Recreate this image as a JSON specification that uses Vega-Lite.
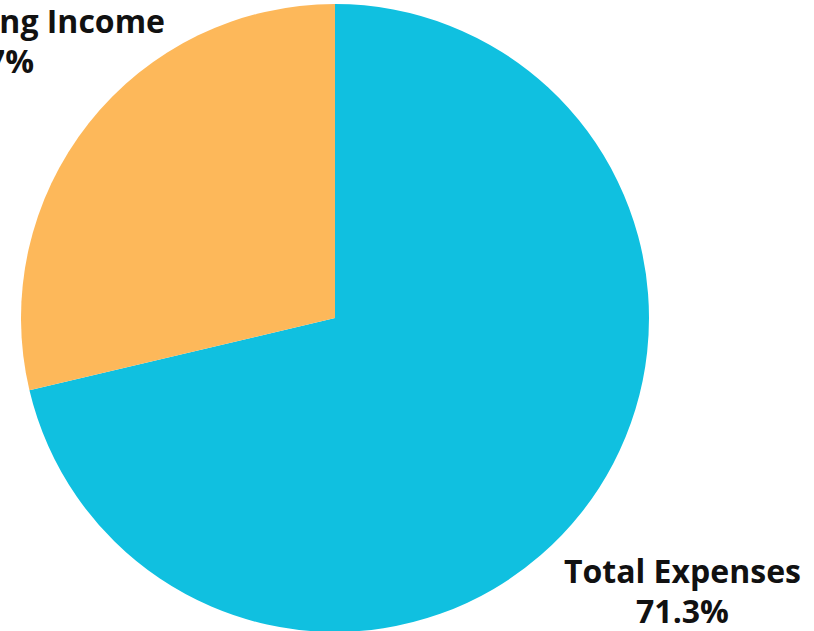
{
  "$schema": "https://vega.github.io/schema/vega-lite/v6.json",
  "width": 670,
  "height": 636,
  "autosize": {"type": "none"},
  "padding": {"left": 0, "top": 0, "right": 144, "bottom": 0},
  "background": "white",
  "view": {"stroke": null},
  "data": {
    "values": [
      {"category": "Total Expenses", "value": 71.3, "label": "Total Expenses\n71.3%"},
      {"category": "Net Operating Income", "value": 28.7, "label": "Net Operating Income\n28.7%"}
    ]
  },
  "encoding": {
    "theta": {"field": "value", "type": "quantitative", "stack": true},
    "order": {"field": "value", "type": "quantitative", "sort": "descending"},
    "color": {
      "field": "category",
      "type": "nominal",
      "scale": {"domain": ["Total Expenses", "Net Operating Income"], "range": ["#10C0E0", "#FDB85A"]},
      "legend": null
    }
  },
  "layer": [
    {"mark": {"type": "arc", "outerRadius": 314}},
    {
      "mark": {"type": "text", "radius": 443, "dy": -20, "font": "Open Sans", "fontWeight": "bold", "fontSize": 32, "lineBreak": "\n", "lineHeight": 40, "fill": "#111111", "align": "center", "baseline": "middle"},
      "encoding": {"text": {"field": "label", "type": "nominal"}, "color": {"value": "#111111"}}
    }
  ]
}
